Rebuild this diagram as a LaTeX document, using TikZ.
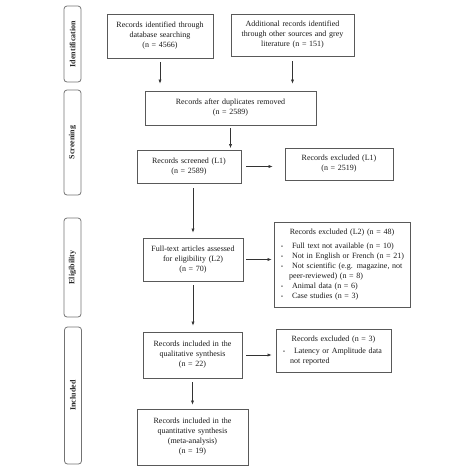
\documentclass[tikz,border=0pt]{standalone}
\usepackage{fontspec}
\setmainfont{Liberation Serif}
\usetikzlibrary{arrows.meta}
\newcommand{\bul}{\makebox[15pt][l]{\hspace{4pt}\raisebox{0.3pt}{\scalebox{0.7}{•}}}}
\newcommand{\widesp}{\spaceskip=3pt plus 1pt minus 0.5pt\relax}
\begin{document}
\begin{tikzpicture}[x=1pt,y=-1pt,
  box/.style={draw=black!65, line width=0.8pt, align=center, inner sep=2pt,
    font=\fontsize{8}{10}\selectfont\widesp, text=black!90},
  phase/.style={draw=black!55, line width=0.8pt, rounded corners=3pt, rotate=90,
    font=\fontsize{8}{10}\selectfont\bfseries, text=black!85, inner sep=0pt,
    minimum height=17},
  arr/.style={-{Latex[length=4pt,width=3.2pt]}, line width=0.6pt, black!80}]
\useasboundingbox (0,0) rectangle (474,475);

% phase labels
\node[phase, minimum width=76]  (p1) at (72.5,44)    {Identification};
\node[phase, minimum width=105] (p2) at (72.5,142.5) {Screening};
\node[phase, minimum width=99]  (p3) at (72.5,267.5) {Eligibility};
\node[phase, minimum width=137] (p4) at (73,395.5)   {Included};

% boxes
\node[box, minimum width=106, minimum height=44, text width=100] (b1) at (160,36)
  {Records identified through\\ database searching\\ (n = 4566)};
\node[box, minimum width=123, minimum height=42, text width=117] (b2) at (292.5,35)
  {Additional records identified\\ through other sources and grey\\ literature (n = 151)};
\node[box, minimum width=171, minimum height=34, text width=165] (b3) at (230.5,108)
  {Records after duplicates removed\\ (n = 2589)};
\node[box, minimum width=104, minimum height=33, text width=98] (b4) at (189,166.5)
  {Records screened (L1)\\ (n = 2589)};
\node[box, minimum width=108, minimum height=32, text width=102] (b5) at (339,164)
  {Records excluded (L1)\\ (n = 2519)};
\node[box, minimum width=100, minimum height=43, text width=94] (b6) at (193,259.5)
  {Full-text articles assessed\\ for eligibility (L2)\\ (n = 70)};
\node[box, minimum width=136, minimum height=85, text width=130, align=left] (b7) at (342,264.5)
  {{\centering Records excluded (L2) (n = 48)\par}\vspace{4pt}%
   \bul Full text not available (n = 10)\\
   \bul Not in English or French (n = 21)\\
   \bul Not scientific (e.g. magazine, not\\
   \hspace*{12pt}peer-reviewed) (n = 8)\\
   \bul Animal data (n = 6)\\
   \bul Case studies (n = 3)};
\node[box, minimum width=99, minimum height=46, text width=93] (b8) at (192.5,355)
  {Records included in the\\ qualitative synthesis\\ (n = 22)};
\node[box, minimum width=115, minimum height=43, text width=109, align=left] (b9) at (333.5,350.5)
  {{\centering Records excluded (n = 3)\par}\vspace{2pt}%
   \bul Latency or Amplitude data\\
   \hspace*{11pt}not reported};
\node[box, minimum width=111, minimum height=56, text width=105] (b10) at (192.5,437)
  {Records included in the\\ quantitative synthesis\\ (meta-analysis)\\ (n = 19)};

% arrows
\draw[arr, shorten <=4pt, shorten >=7pt] (b1.south) -- (b1.south |- b3.north);
\draw[arr, shorten <=5pt, shorten >=7pt] (b2.south) -- (b2.south |- b3.north);
\draw[arr, shorten <=3pt, shorten >=1.5pt] (b3.south) -- (b3.south |- b4.north);
\draw[arr, shorten <=5pt, shorten >=12pt] (b4.east) -- (b4.east -| b5.west);
\draw[arr, shorten <=5pt, shorten >=5pt] (b6.north |- b4.south) -- (b6.north);
\draw[arr, shorten <=3pt, shorten >=2pt] (b6.east) -- (b6.east -| b7.west);
\draw[arr, shorten <=4pt, shorten >=6pt] (b6.south) -- (b6.south |- b8.north);
\draw[arr, shorten <=4pt, shorten >=4pt] (b8.east) -- (b8.east -| b9.west);
\draw[arr, shorten <=4pt, shorten >=4pt] (b8.south) -- (b8.south |- b10.north);
\end{tikzpicture}
\end{document}
